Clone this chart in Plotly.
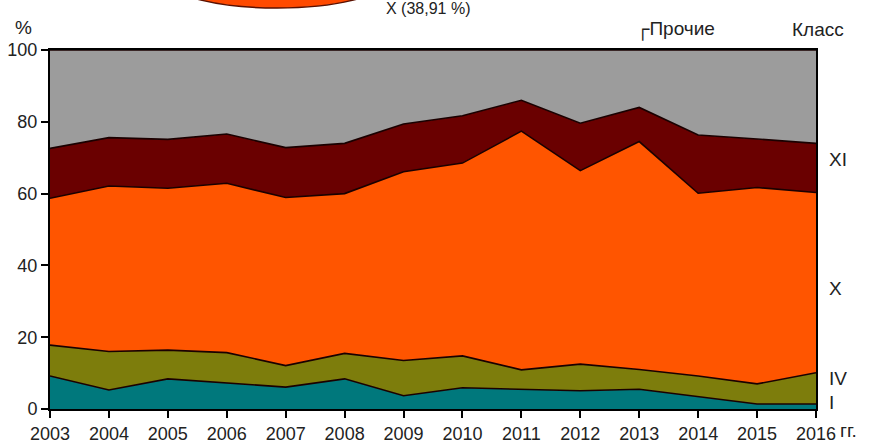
import plotly.graph_objects as go

# Years on the x axis
years = list(range(2003, 2017))

# Share of each disease class, % (stacked bottom to top)
class_I = [9.2, 5.3, 8.4, 7.2, 6.1, 8.4, 3.7, 5.9, 5.5, 5.1, 5.5, 3.4, 1.4, 1.4]
class_IV = [8.6, 10.7, 8.0, 8.5, 6.0, 7.1, 9.8, 8.9, 5.4, 7.4, 5.5, 5.8, 5.6, 8.7]
class_X = [40.9, 46.1, 45.1, 47.2, 46.8, 44.5, 52.6, 53.7, 66.5, 53.9, 63.5, 50.9, 54.7, 50.2]
class_XI = [13.9, 13.5, 13.6, 13.7, 13.9, 14.0, 13.3, 13.2, 8.6, 13.2, 9.5, 16.2, 13.5, 13.7]
other = [27.4, 24.4, 24.9, 23.4, 27.2, 26.0, 20.6, 18.3, 14.0, 20.4, 16.0, 23.7, 24.8, 26.0]

series = [
    ("I", class_I, "#00787c"),
    ("IV", class_IV, "#7d7d0c"),
    ("X", class_X, "#ff5500"),
    ("XI", class_XI, "#6a0000"),
    ("Прочие", other, "#9c9c9c"),
]

# Right-hand class labels and their vertical positions (data units)
side_labels = ["XI", "X", "IV", "I"]
side_label_y = [69.5, 33.7, 8.6, 1.7]

FONT = "Liberation Sans, Arial, sans-serif"
FS = 19
TICK_FS = 18

fig = go.Figure()
for name, vals, color in series:
    fig.add_trace(go.Scatter(
        x=years, y=vals, name=name, mode="lines",
        stackgroup="one",
        line=dict(color="#1a0000", width=1.6),
        fillcolor=color,
        hoverinfo="skip",
    ))

annotations = []
for txt, yv in zip(side_labels, side_label_y):
    annotations.append(dict(
        x=1, xref="paper", xshift=11, y=yv, yref="y",
        text=txt, showarrow=False, xanchor="left", yanchor="middle",
        font=dict(family=FONT, size=FS, color="#222"),
    ))

annotations += [
    dict(x=-0.035, xref="paper", y=1.064, yref="paper", text="%",
         showarrow=False, xanchor="center", yanchor="middle",
         font=dict(family=FONT, size=FS, color="#222")),
    dict(x=1.0, xref="paper", xshift=22, y=0, yref="paper", yshift=-21,
         text="гг.", showarrow=False, xanchor="left", yanchor="middle",
         font=dict(family=FONT, size=FS, color="#222")),
    dict(x=1.0, xref="paper", xshift=-26, y=1.058, yref="paper",
         text="Класс", showarrow=False, xanchor="left", yanchor="middle",
         font=dict(family=FONT, size=FS, color="#222")),
    dict(x=0.763, xref="paper", y=1.058, yref="paper",
         text="┌Прочие", showarrow=False, xanchor="left", yanchor="middle",
         font=dict(family=FONT, size=FS, color="#222")),
    dict(x=0.436, xref="paper", y=1.116, yref="paper",
         text="X (38,91 %)", showarrow=False, xanchor="left", yanchor="middle",
         font=dict(family=FONT, size=16, color="#222")),
]

# Lower edge of the pie chart drawn above the plot
shapes = [
    dict(type="circle", xref="paper", yref="paper",
         x0=0.158, x1=0.435, y0=1.117, y1=1.262,
         fillcolor="#ff4a00", line=dict(color="#5a1000", width=1.5),
         layer="above"),
]

axis_common = dict(
    showgrid=False, zeroline=False, automargin=False,
    showline=True, linecolor="black", linewidth=2, mirror=True,
    ticks="outside", ticklen=7, tickcolor="black", tickwidth=1.5,
    tickfont=dict(family=FONT, size=TICK_FS, color="#222"),
)

fig.update_layout(
    width=872, height=445,
    margin=dict(l=50, r=56, t=50, b=36),
    paper_bgcolor="white", plot_bgcolor="white",
    showlegend=False,
    font=dict(family=FONT, size=FS, color="#222"),
    xaxis=dict(
        range=[2003, 2016], tickmode="array", tickvals=years,
        ticktext=[str(y) for y in years], **axis_common,
    ),
    yaxis=dict(
        range=[0, 100], tickmode="array", tickvals=[0, 20, 40, 60, 80, 100],
        **axis_common,
    ),
    annotations=annotations,
    shapes=shapes,
)

fig.write_html("out.html")
